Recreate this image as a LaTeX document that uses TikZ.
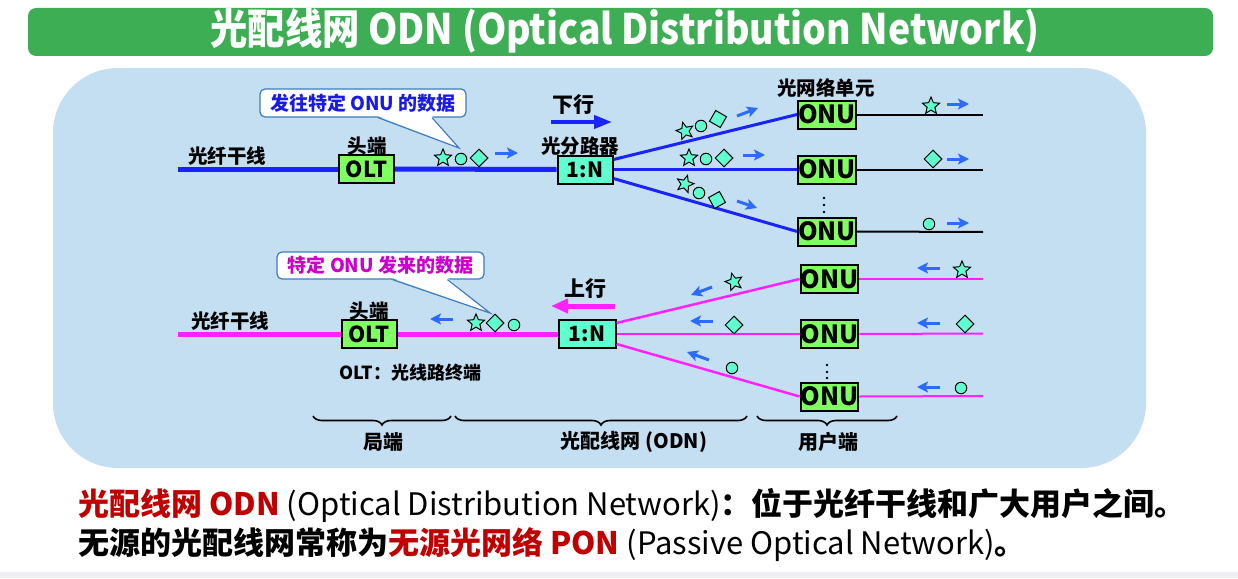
\documentclass[tikz,border=0pt]{standalone}
\usepackage{fontspec}
\setmainfont{Noto Sans CJK SC}
\usetikzlibrary{shapes.geometric,arrows.meta,decorations.pathreplacing}

\newcommand{\fsz}[1]{\fontsize{#1}{#1}\selectfont}

\definecolor{titlegreen}{RGB}{61,174,83}
\definecolor{panelblue}{RGB}{196,222,242}
\definecolor{fiberblue}{RGB}{25,35,250}
\definecolor{tipblue}{RGB}{45,107,255}
\definecolor{fibermag}{RGB}{255,34,255}
\definecolor{textmag}{RGB}{204,0,204}
\definecolor{textblue}{RGB}{26,26,230}
\definecolor{tagedge}{RGB}{61,124,192}
\definecolor{boxgreen}{RGB}{128,255,96}
\definecolor{aqua}{RGB}{95,255,208}
\definecolor{darkred}{RGB}{192,0,0}
\definecolor{stripgray}{RGB}{240,240,244}

\tikzset{
  unitbox/.style={draw, line width=2pt, fill=boxgreen, inner sep=0pt,
    minimum width=55pt, minimum height=28pt, font=\bfseries\fsz{22}},
  splbox/.style={unitbox, fill=aqua, font=\bfseries\fsz{21}},
  onubox/.style={unitbox, font=\bfseries\fsz{25}},
  lbl/.style={inner sep=0pt, font=\bfseries\fsz{19.5}},
  tagbox/.style={draw=tagedge, line width=1.2pt, fill=white, rounded corners=5pt,
    inner sep=0pt, minimum width=206pt, minimum height=28pt, font=\bfseries\fsz{19}},
  pointer/.style={draw=tagedge, line width=1.2pt, line join=miter},
  sym/.style={draw, line width=1pt, fill=aqua, inner sep=0pt},
  sstar/.style={sym, star, star points=5, star point ratio=2.2, minimum size=18pt},
  sdot/.style={sym, circle, minimum size=11.5pt},
  sdia/.style={sym, diamond, minimum size=18pt},
  go/.style={tipblue, line width=3pt, -{Stealth[length=11pt,width=11pt,inset=2.5pt]}},
  downfiber/.style={fiberblue, line width=5pt},
  downbranch/.style={fiberblue, line width=3pt},
  upfiber/.style={fibermag, line width=5pt},
  upbranch/.style={fibermag, line width=2.5pt},
  drop/.style={line width=2pt},
  bracket/.style={line width=1.6pt, decorate, decoration={brace, mirror, amplitude=9pt}},
}

\begin{document}
\begin{tikzpicture}[x=1pt,y=-1pt]
\useasboundingbox (0,0) rectangle (1238,578);

% Title bar
\fill[titlegreen, rounded corners=8pt] (28,8) rectangle (1213,56);
\node[text=white, inner sep=0pt, font=\bfseries\fsz{42}] (title) at (625,31)
  {\scalebox{0.89}[1]{光配线网 ODN (Optical Distribution Network)}};

% Panel
\fill[panelblue, rounded corners=65pt] (53,68) rectangle (1146,468);
\fill[stripgray] (0,572) rectangle (1238,578);

%%%%%%%%%%%%%%%%%%%%%%%%%%%%%%%%%% Downstream
\node[unitbox] (olt1) at (366.5,169) {OLT};
\node[splbox] (spl1) at (585,169.5) {1:N};
\node[onubox] (onu1) at (827,114.5) {ONU};
\node[onubox] (onu2) at (827,169.5) {ONU};
\node[onubox] (onu3) at (827,231.5) {ONU};

\node[lbl] (trunk1) at (227,156) {光纤干线};
\node[lbl] (head1) at (367,146) {头端};
\node[lbl] (splname) at (580,146) {光分路器};
\node[lbl] (onuname) at (826,88) {光网络单元};
\node[lbl, font=\bfseries\fsz{21}] (down) at (573,105) {下行};
\draw[fiberblue, line width=4pt, -{Triangle[length=18pt,width=13pt]}] (551,122) -- (612,122);

\coordinate (dsrc) at (178,169);
\coordinate (d1) at (983,114.5);
\coordinate (d2) at (983,169.5);
\coordinate (d3) at (983,232);
\draw[downfiber] (dsrc) -- (olt1.west);
\draw[downfiber] (olt1.east) -- (spl1.west);
\draw[downbranch] ([yshift=10pt]spl1.east) -- (onu1.west);
\draw[downbranch] (spl1.east) -- (onu2.west);
\draw[downbranch] ([yshift=-9pt]spl1.east) -- (onu3.west);
\draw[drop] (onu1.east) -- (d1);
\draw[drop] (onu2.east) -- (d2);
\draw[drop] (onu3.east) -- (d3);

% callout
\node[tagbox, text=textblue] (tag1) at (363,103) {发往特定 ONU 的数据};
\coordinate (tip1) at (459,148);
\fill[white] ([xshift=15pt,yshift=1.5pt]tag1.south) -- (tip1) -- ([xshift=69pt,yshift=1.5pt]tag1.south) -- cycle;
\draw[pointer] ([xshift=15pt]tag1.south) -- (tip1) -- ([xshift=69pt]tag1.south);

% data on the trunk
\node[sstar] (ds0) at (443,158) {};
\node[sdot] (dc0) at (461,159) {};
\node[sdia] (dd0) at (479,158) {};
\draw[go] (495,153) -- (518,153);
% data on the branches
\node[sstar, rotate=15] (ds1) at (685,131) {};
\node[sdot] (dc1) at (701,126) {};
\node[sdia, rotate=15] (dd1) at (718,119) {};
\draw[go] (737,116) -- (758,108);
\node[sstar] (ds2) at (689,158) {};
\node[sdot] (dc2) at (706,159) {};
\node[sdia] (dd2) at (724,158) {};
\draw[go] (743,155) -- (765,155);
\node[sstar, rotate=-16] (ds3) at (685,184) {};
\node[sdot] (dc3) at (699,193) {};
\node[sdia, rotate=-16] (dd3) at (717,200) {};
\draw[go] (737,201) -- (757,208);
% data at the users
\node[sstar] (ds4) at (931,106) {};
\draw[go] (947,104) -- (969,104);
\node[sdia] (dd4) at (933,159) {};
\draw[go] (947,159) -- (969,159);
\node[sdot] (dc4) at (929,224) {};
\draw[go] (947,223) -- (969,223);

\foreach \y in {198,205,212} \fill (824,\y) circle (1.3);

%%%%%%%%%%%%%%%%%%%%%%%%%%%%%%%%%% Upstream
\node[unitbox] (olt2) at (369,334) {OLT};
\node[splbox, minimum width=57pt] (spl2) at (587,334) {1:N};
\node[onubox] (onu4) at (829.5,279) {ONU};
\node[onubox] (onu5) at (829.5,334) {ONU};
\node[onubox] (onu6) at (829.5,396.5) {ONU};

\node[lbl] (trunk2) at (230,321) {光纤干线};
\node[lbl] (head2) at (369,311) {头端};
\node[lbl, font=\bfseries\fsz{21}] (up) at (585,289) {上行};
\node[lbl, font=\bfseries\fsz{18}] (oltname) at (410,373) {OLT：光线路终端};
\draw[fibermag, line width=5pt, -{Triangle[length=17pt,width=14pt]}] (615,306) -- (551,306);

\coordinate (usrc) at (178,334);
\coordinate (u1) at (983,279);
\coordinate (u2) at (983,333.5);
\coordinate (u3) at (983,396);
\draw[upfiber] (usrc) -- (olt2.west);
\draw[upfiber] (olt2.east) -- (spl2.west);
\draw[upbranch] ([yshift=11pt]spl2.east) -- (onu4.west);
\draw[upbranch] (spl2.east) -- (onu5.west);
\draw[upbranch] ([yshift=-10pt]spl2.east) -- (onu6.west);
\draw[upbranch, line width=2pt] (onu4.east) -- (u1);
\draw[upbranch, line width=2pt] (onu5.east) -- (u2);
\draw[upbranch, line width=2pt] (onu6.east) -- (u3);

% callout
\node[tagbox, text=textmag, minimum width=207pt, minimum height=27pt] (tag2) at (380.5,265.5) {特定 ONU 发来的数据};
\coordinate (tip2) at (490,313);
\fill[white] ([xshift=12pt,yshift=1.5pt]tag2.south) -- (tip2) -- ([xshift=67pt,yshift=1.5pt]tag2.south) -- cycle;
\draw[pointer] ([xshift=12pt]tag2.south) -- (tip2) -- ([xshift=67pt]tag2.south);

% data on the trunk
\node[sstar] (us0) at (476,323) {};
\node[sdia] (ud0) at (495,323) {};
\node[sdot] (uc0) at (514,325) {};
\draw[go] (453,319) -- (430,319);
% data on the branches
\node[sstar, rotate=15] (us1) at (734,282) {};
\draw[go] (712,287) -- (691,295);
\node[sdia] (ud2) at (734,325) {};
\draw[go] (713,321) -- (690,321);
\node[sdot] (uc3) at (732,368) {};
\draw[go] (709,360) -- (687,352);
% data at the users
\draw[go] (940,268) -- (917,268);
\node[sstar] (us4) at (962,270) {};
\draw[go] (940,323) -- (917,323);
\node[sdia] (ud4) at (965,324) {};
\draw[go] (940,387) -- (917,387);
\node[sdot] (uc4) at (961,388) {};

\foreach \y in {365,372,378} \fill (827,\y) circle (1.3);

% braces
\draw[bracket] (313,416) -- (451,416);
\draw[bracket] (455,416) -- (747,416);
\draw[bracket] (757,416) -- (897,416);
\node[lbl, font=\bfseries\fsz{20}] (office) at (383,442) {局端};
\node[lbl, font=\bfseries\fsz{20}] (odn) at (634,442) {光配线网 (ODN)};
\node[lbl, font=\bfseries\fsz{20}] (user) at (828,442) {用户端};

% Notes
\node[anchor=west, inner sep=0pt, font=\fsz{31}] (note1) at (78,505)
  {\textcolor{darkred}{\bfseries 光配线网 ODN} (Optical Distribution Network){\bfseries ：位于光纤干线和广大用户之间。}};
\node[anchor=west, inner sep=0pt, font=\fsz{31}] (note2) at (78,545)
  {{\bfseries 无源的光配线网常称为\textcolor{darkred}{无源光网络 PON}} (Passive Optical Network){\bfseries 。}};

\end{tikzpicture}
\end{document}
